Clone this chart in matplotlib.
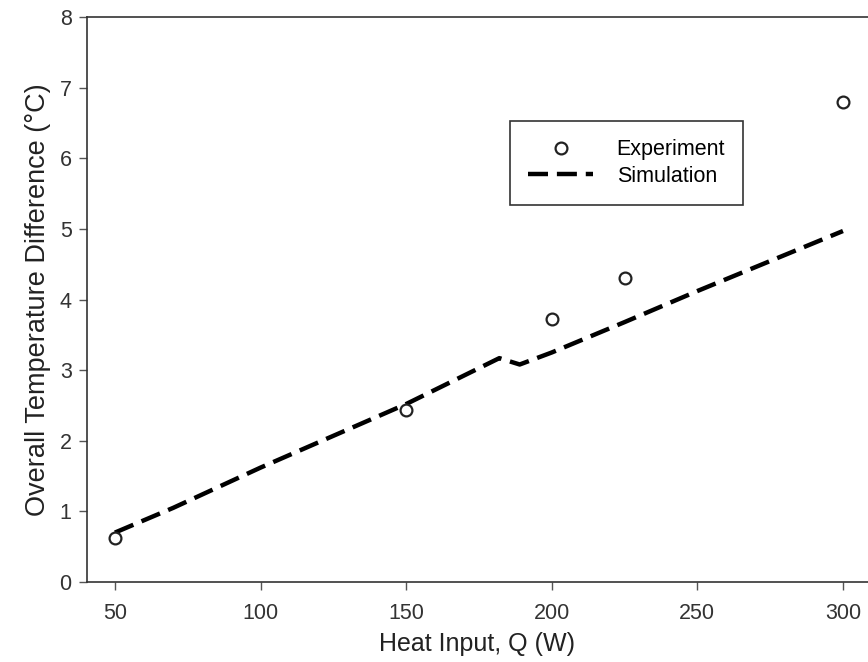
import matplotlib.pyplot as plt
import numpy as np

plt.rcParams['font.family'] = ['Liberation Sans', 'DejaVu Sans']

# experiment data
q_exp = [50, 150, 200, 225, 300]
dt_exp = [0.63, 2.43, 3.73, 4.31, 6.79]

# simulation curve
q_sim = [50, 70, 100, 150, 182, 189, 200, 225, 250, 300]
dt_sim = [0.70, 1.05, 1.62, 2.52, 3.17, 3.08, 3.25, 3.68, 4.12, 4.97]

fig = plt.figure(figsize=(8.68, 6.62), dpi=100)
ax = fig.add_axes([0.1002, 0.1208, 0.8998, 0.8535])

ax.plot(q_exp, dt_exp, 'o', mfc='white', mec='#222222', ms=8.5, mew=1.6,
        label='Experiment', zorder=3)
ax.plot(q_sim, dt_sim, color='black', lw=3.2, dashes=(4.5, 2.0),
        label='Simulation', zorder=2)

ax.set_xlim(40.4, 308.6)
ax.set_ylim(0, 8)
ax.set_xticks([50, 100, 150, 200, 250, 300])
ax.set_yticks(range(0, 9))

for s in ['left', 'bottom', 'top']:
    ax.spines[s].set_color('#333333')
    ax.spines[s].set_linewidth(1.2)
ax.spines['right'].set_visible(False)

ax.tick_params(direction='out', length=6, width=1, color='#555555',
               labelsize=15.5, labelcolor='#333333', pad=5)
ax.tick_params(axis='x', pad=9)

ax.set_xlabel('Heat Input, Q (W)', fontsize=18, color='#222222', labelpad=6)
ax.set_ylabel('Overall Temperature Difference (°C)', fontsize=19.5,
              color='#222222', labelpad=6)

leg = ax.legend(loc='upper left', bbox_to_anchor=(510 / 868, 1 - 121 / 662),
                bbox_transform=fig.transFigure, fontsize=15.5,
                fancybox=False, framealpha=1, edgecolor='#333333',
                handlelength=3.0, borderpad=0.85, labelspacing=0.25,
                handletextpad=1.1, borderaxespad=0)
leg.get_frame().set_linewidth(1.2)

fig.savefig('out.png', dpi=100)
